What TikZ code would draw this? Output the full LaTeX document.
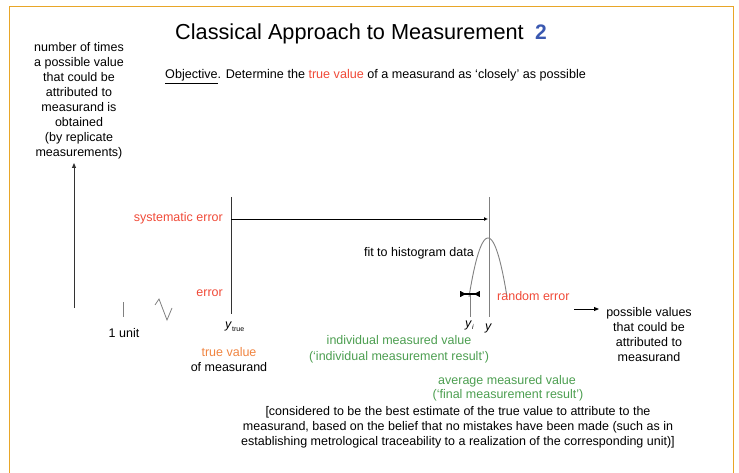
\documentclass[tikz,border=0pt]{standalone}
\usepackage{fontspec}
\setmainfont{Liberation Sans}
\usetikzlibrary{arrows.meta}
\definecolor{frameor}{HTML}{E8A628}
\definecolor{errred}{HTML}{F04A38}
\definecolor{tvorange}{HTML}{F08440}
\definecolor{mgreen}{HTML}{4C9E50}
\definecolor{tblue}{HTML}{3A58B0}
\begin{document}
\begin{tikzpicture}[x=1pt,y=-1pt,
  lbl/.style={font=\fontsize{12.5}{15}\selectfont, inner sep=0pt},
  blk/.style={lbl, align=center},
  ln/.style={line width=0.9pt, black!80},
  thinln/.style={line width=0.9pt, black!50},
  arr/.style={-{Triangle[length=5pt,width=4pt]}},
]
\useasboundingbox (0,0) rectangle (739,473);
\draw[frameor, line width=1pt] (9,473) -- (9,7) -- (733,7) -- (733,473);

% title
\node[anchor=base west, inner sep=0pt, font=\fontsize{21.7}{26}\selectfont] (title) at (175,40) {Classical Approach to Measurement};
\node[anchor=base west, inner sep=0pt, font=\fontsize{21}{25}\selectfont\bfseries, text=tblue] (num) at (535,40) {2};
\node[lbl, font=\fontsize{12.6}{15}\selectfont, anchor=base west] (obj) at (165,79) {\underline{Objective}. Determine the \textcolor{errred}{true value} of a measurand as ‘closely’ as possible};

% y-axis
\node[blk, anchor=north] (ylab) at (79,42) {number of times\\a possible value\\that could be\\attributed to\\measurand is\\obtained\\(by replicate\\measurements)};
\coordinate (yaxB) at (74,308);
\coordinate (yaxT) at (74,163);
\draw[ln, arr] (yaxB) -- (yaxT);

% true value line
\coordinate (ytT) at (231,197);
\coordinate (ytB) at (231,314);
\draw[ln] (ytT) -- (ytB);
% mean line
\coordinate (ybT) at (489,197);
\coordinate (ybB) at (489,317);
\draw[thinln] (ybT) -- (ybB);
% systematic error arrow
\coordinate (sysA) at (231,219);
\coordinate (sysB) at (488,219);
\draw[line width=0.9pt, -{Latex[length=4pt,width=4pt]}] (sysA) -- (sysB);

% fit curve
\draw[thinln] plot[domain=-19:19, samples=41, smooth] ({488+\x},{238+0.163*\x*\x});

% individual value line
\coordinate (yiT) at (470,295);
\coordinate (yiB) at (470,317);
\draw[thinln] (yiT) -- (yiB);
% random error marker
\coordinate (reA) at (460,294);
\coordinate (reB) at (480,294);
\draw[line width=1.1pt, {Bar[width=6pt].Latex[reversed,length=6pt,width=5.5pt]}-{Latex[reversed,length=6pt,width=5.5pt].Bar[width=6pt]}] (reA) -- (reB);

% unit tick and axis break
\coordinate (uT) at (123,302);
\coordinate (uB) at (123,317);
\draw[thinln] (uT) -- (uB);
\coordinate (b1) at (155,305);
\coordinate (b2) at (159,299);
\coordinate (b3) at (167,320);
\coordinate (b4) at (172,308);
\draw[thinln, line width=0.8pt] (b1) -- (b2) -- (b3) -- (b4);

% arrow to possible values
\coordinate (pvA) at (574,309);
\coordinate (pvB) at (599,309);
\draw[line width=0.9pt, arr] (pvA) -- (pvB);

% labels
\node[lbl, text=errred, anchor=base east] (sys) at (223,222) {systematic error};
\node[lbl, text=errred, anchor=base east] (err) at (223,296) {error};
\node[lbl, anchor=base east] (fit) at (474,256) {fit to histogram data};
\node[lbl, text=errred, anchor=base west] (rand) at (497,300) {random error};
\node[lbl, anchor=base] (unit) at (124,337) {1 unit};
\node[lbl, anchor=base west] (ytl) at (225,328) {\textit{y}\raisebox{-3pt}{\fontsize{7}{8}\selectfont true}};
\node[lbl, anchor=base west] (yil) at (465,327) {\textit{y}\raisebox{-2pt}{\fontsize{7}{8}\selectfont\textit{i}}};
\node[lbl, anchor=base west] (ybl) at (485,330) {\textit{y}};
\node[lbl, text=tvorange, anchor=base] (tv) at (229,356) {true value};
\node[lbl, anchor=base] (ofm) at (229,371) {of measurand};
\node[lbl, text=mgreen, anchor=base] (ind1) at (399,344) {individual measured value};
\node[lbl, text=mgreen, anchor=base] (ind2) at (399,360) {(‘individual measurement result’)};
\node[blk, anchor=north] (poss) at (649,307) {possible values\\that could be\\attributed to\\measurand};
\node[lbl, text=mgreen, anchor=base] (avg1) at (507,384) {average measured value};
\node[lbl, text=mgreen, anchor=base] (avg2) at (508,398) {(‘final measurement result’)};
\node[blk, anchor=north] (brk) at (458,406) {[considered to be the best estimate of the true value to attribute to the\\measurand, based on the belief that no mistakes have been made (such as in\\establishing metrological traceability to a realization of the corresponding unit)]};
\end{tikzpicture}
\end{document}
